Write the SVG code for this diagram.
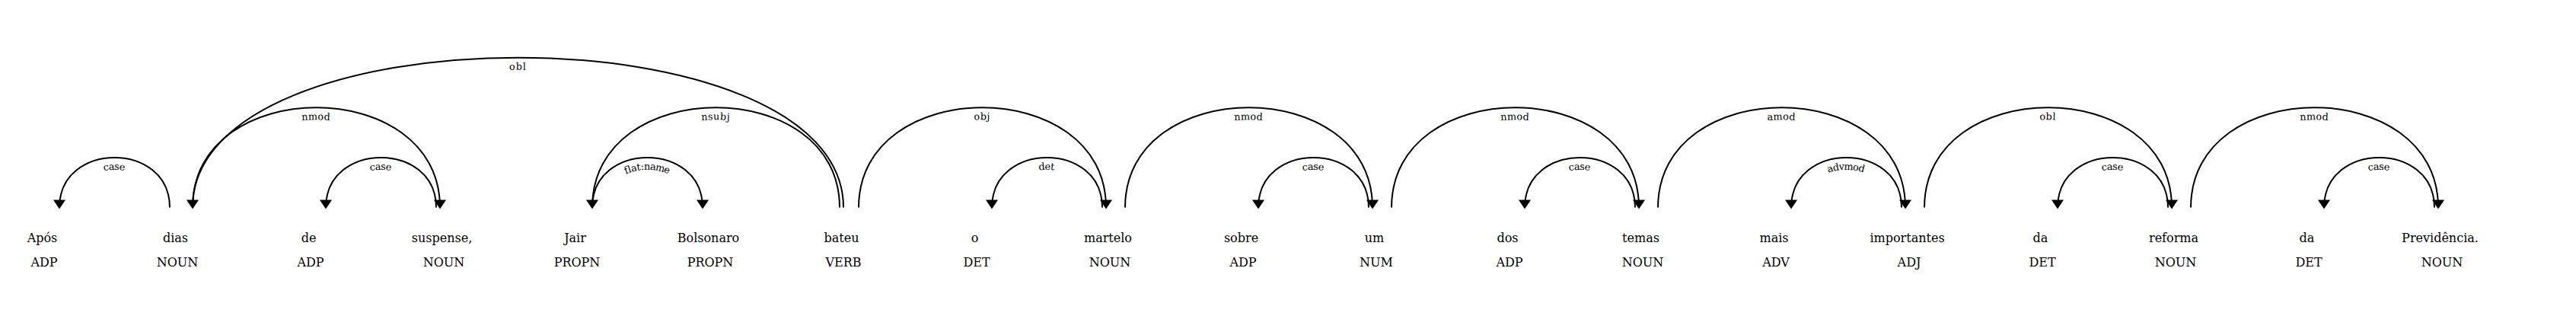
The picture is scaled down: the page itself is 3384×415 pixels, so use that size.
<svg xmlns="http://www.w3.org/2000/svg" xmlns:xlink="http://www.w3.org/1999/xlink" width="3384" height="415" viewBox="0 0 3384 415">
<style>
text { font-family: "DejaVu Serif", serif; fill: #000; }
.word { font-size: 16px; text-anchor: middle; }
.lbl { font-size: 12.8px; letter-spacing: 1px; }
.arc { fill: none; stroke: #000; stroke-width: 2px; }
.head { fill: #000; }
</style>
<rect x="0" y="0" width="3384" height="415" fill="#fff"/>
<g id="connectors">
  <g id="e-case-0-1"><path class="arc" id="a1" d="M78,272.5 C78,185 223,185 223,272.5"/><text dy="1.25em" class="lbl"><textPath xlink:href="#a1" href="#a1" startOffset="50%" text-anchor="middle">case</textPath></text><path class="head" d="M78,274.5 L70,262.5 86,262.5"/></g>
  <g id="e-nmod-1-3"><path class="arc" id="a2" d="M253,272.5 C253,97.5 578,97.5 578,272.5"/><text dy="1.25em" class="lbl"><textPath xlink:href="#a2" href="#a2" startOffset="50%" text-anchor="middle">nmod</textPath></text><path class="head" d="M578,274.5 L586,262.5 570,262.5"/></g>
  <g id="e-case-2-3"><path class="arc" id="a3" d="M428,272.5 C428,185 573,185 573,272.5"/><text dy="1.25em" class="lbl"><textPath xlink:href="#a3" href="#a3" startOffset="50%" text-anchor="middle">case</textPath></text><path class="head" d="M428,274.5 L420,262.5 436,262.5"/></g>
  <g id="e-obl-1-6"><path class="arc" id="a4" d="M253,272.5 C253,10 1108,10 1108,272.5"/><text dy="1.25em" class="lbl"><textPath xlink:href="#a4" href="#a4" startOffset="50%" text-anchor="middle">obl</textPath></text><path class="head" d="M253,274.5 L245,262.5 261,262.5"/></g>
  <g id="e-flat-4-5"><path class="arc" id="a5" d="M778,272.5 C778,185 923,185 923,272.5"/><text dy="1.25em" class="lbl"><textPath xlink:href="#a5" href="#a5" startOffset="50%" text-anchor="middle">flat:name</textPath></text><path class="head" d="M923,274.5 L931,262.5 915,262.5"/></g>
  <g id="e-nsubj-4-6"><path class="arc" id="a6" d="M778,272.5 C778,97.5 1103,97.5 1103,272.5"/><text dy="1.25em" class="lbl"><textPath xlink:href="#a6" href="#a6" startOffset="50%" text-anchor="middle">nsubj</textPath></text><path class="head" d="M778,274.5 L770,262.5 786,262.5"/></g>
  <g id="e-det-7-8"><path class="arc" id="a7" d="M1303,272.5 C1303,185 1448,185 1448,272.5"/><text dy="1.25em" class="lbl"><textPath xlink:href="#a7" href="#a7" startOffset="50%" text-anchor="middle">det</textPath></text><path class="head" d="M1303,274.5 L1295,262.5 1311,262.5"/></g>
  <g id="e-obj-6-8"><path class="arc" id="a8" d="M1128,272.5 C1128,97.5 1453,97.5 1453,272.5"/><text dy="1.25em" class="lbl"><textPath xlink:href="#a8" href="#a8" startOffset="50%" text-anchor="middle">obj</textPath></text><path class="head" d="M1453,274.5 L1461,262.5 1445,262.5"/></g>
  <g id="e-case-9-10"><path class="arc" id="a9" d="M1653,272.5 C1653,185 1798,185 1798,272.5"/><text dy="1.25em" class="lbl"><textPath xlink:href="#a9" href="#a9" startOffset="50%" text-anchor="middle">case</textPath></text><path class="head" d="M1653,274.5 L1645,262.5 1661,262.5"/></g>
  <g id="e-nmod-8-10"><path class="arc" id="a10" d="M1478,272.5 C1478,97.5 1803,97.5 1803,272.5"/><text dy="1.25em" class="lbl"><textPath xlink:href="#a10" href="#a10" startOffset="50%" text-anchor="middle">nmod</textPath></text><path class="head" d="M1803,274.5 L1811,262.5 1795,262.5"/></g>
  <g id="e-case-11-12"><path class="arc" id="a11" d="M2003,272.5 C2003,185 2148,185 2148,272.5"/><text dy="1.25em" class="lbl"><textPath xlink:href="#a11" href="#a11" startOffset="50%" text-anchor="middle">case</textPath></text><path class="head" d="M2003,274.5 L1995,262.5 2011,262.5"/></g>
  <g id="e-nmod-10-12"><path class="arc" id="a12" d="M1828,272.5 C1828,97.5 2153,97.5 2153,272.5"/><text dy="1.25em" class="lbl"><textPath xlink:href="#a12" href="#a12" startOffset="50%" text-anchor="middle">nmod</textPath></text><path class="head" d="M2153,274.5 L2161,262.5 2145,262.5"/></g>
  <g id="e-advmod-13-14"><path class="arc" id="a13" d="M2353,272.5 C2353,185 2498,185 2498,272.5"/><text dy="1.25em" class="lbl"><textPath xlink:href="#a13" href="#a13" startOffset="50%" text-anchor="middle">advmod</textPath></text><path class="head" d="M2353,274.5 L2345,262.5 2361,262.5"/></g>
  <g id="e-amod-12-14"><path class="arc" id="a14" d="M2178,272.5 C2178,97.5 2503,97.5 2503,272.5"/><text dy="1.25em" class="lbl"><textPath xlink:href="#a14" href="#a14" startOffset="50%" text-anchor="middle">amod</textPath></text><path class="head" d="M2503,274.5 L2511,262.5 2495,262.5"/></g>
  <g id="e-case-15-16"><path class="arc" id="a15" d="M2703,272.5 C2703,185 2848,185 2848,272.5"/><text dy="1.25em" class="lbl"><textPath xlink:href="#a15" href="#a15" startOffset="50%" text-anchor="middle">case</textPath></text><path class="head" d="M2703,274.5 L2695,262.5 2711,262.5"/></g>
  <g id="e-obl-14-16"><path class="arc" id="a16" d="M2528,272.5 C2528,97.5 2853,97.5 2853,272.5"/><text dy="1.25em" class="lbl"><textPath xlink:href="#a16" href="#a16" startOffset="50%" text-anchor="middle">obl</textPath></text><path class="head" d="M2853,274.5 L2861,262.5 2845,262.5"/></g>
  <g id="e-case-17-18"><path class="arc" id="a17" d="M3053,272.5 C3053,185 3198,185 3198,272.5"/><text dy="1.25em" class="lbl"><textPath xlink:href="#a17" href="#a17" startOffset="50%" text-anchor="middle">case</textPath></text><path class="head" d="M3053,274.5 L3045,262.5 3061,262.5"/></g>
  <g id="e-nmod-16-18"><path class="arc" id="a18" d="M2878,272.5 C2878,97.5 3203,97.5 3203,272.5"/><text dy="1.25em" class="lbl"><textPath xlink:href="#a18" href="#a18" startOffset="50%" text-anchor="middle">nmod</textPath></text><path class="head" d="M3203,274.5 L3211,262.5 3195,262.5"/></g>
</g>
<g id="n0"><text class="word" x="55.5" y="317.5">Após</text><text class="word" x="58" y="349.5">ADP</text></g>
<g id="n1"><text class="word" x="230.5" y="317.5">dias</text><text class="word" x="233" y="349.5">NOUN</text></g>
<g id="n2"><text class="word" x="405.5" y="317.5">de</text><text class="word" x="408" y="349.5">ADP</text></g>
<g id="n3"><text class="word" x="580.5" y="317.5">suspense,</text><text class="word" x="583" y="349.5">NOUN</text></g>
<g id="n4"><text class="word" x="755.5" y="317.5">Jair</text><text class="word" x="758" y="349.5">PROPN</text></g>
<g id="n5"><text class="word" x="930.5" y="317.5">Bolsonaro</text><text class="word" x="933" y="349.5">PROPN</text></g>
<g id="n6"><text class="word" x="1105.5" y="317.5">bateu</text><text class="word" x="1108" y="349.5">VERB</text></g>
<g id="n7"><text class="word" x="1280.5" y="317.5">o</text><text class="word" x="1283" y="349.5">DET</text></g>
<g id="n8"><text class="word" x="1455.5" y="317.5">martelo</text><text class="word" x="1458" y="349.5">NOUN</text></g>
<g id="n9"><text class="word" x="1630.5" y="317.5">sobre</text><text class="word" x="1633" y="349.5">ADP</text></g>
<g id="n10"><text class="word" x="1805.5" y="317.5">um</text><text class="word" x="1808" y="349.5">NUM</text></g>
<g id="n11"><text class="word" x="1980.5" y="317.5">dos</text><text class="word" x="1983" y="349.5">ADP</text></g>
<g id="n12"><text class="word" x="2155.5" y="317.5">temas</text><text class="word" x="2158" y="349.5">NOUN</text></g>
<g id="n13"><text class="word" x="2330.5" y="317.5">mais</text><text class="word" x="2333" y="349.5">ADV</text></g>
<g id="n14"><text class="word" x="2505.5" y="317.5">importantes</text><text class="word" x="2508" y="349.5">ADJ</text></g>
<g id="n15"><text class="word" x="2680.5" y="317.5">da</text><text class="word" x="2683" y="349.5">DET</text></g>
<g id="n16"><text class="word" x="2855.5" y="317.5">reforma</text><text class="word" x="2858" y="349.5">NOUN</text></g>
<g id="n17"><text class="word" x="3030.5" y="317.5">da</text><text class="word" x="3033" y="349.5">DET</text></g>
<g id="n18"><text class="word" x="3205.5" y="317.5">Previdência.</text><text class="word" x="3208" y="349.5">NOUN</text></g>
</svg>
